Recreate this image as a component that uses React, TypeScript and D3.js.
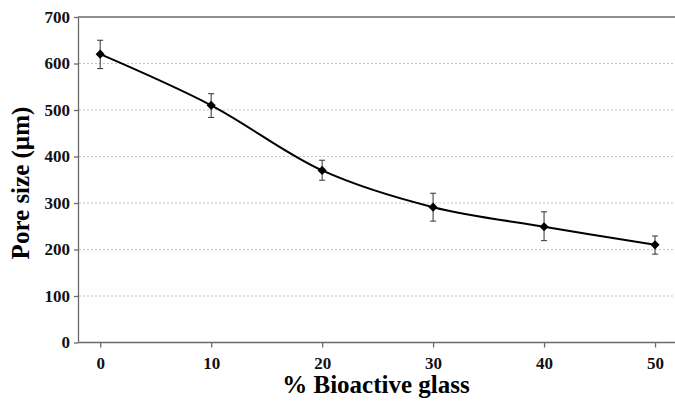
import React, { useEffect, useRef } from 'react'
import * as d3 from 'd3'

const glassPct = [0, 10, 20, 30, 40, 50]
const poreSize = [620, 510, 370, 291, 249, 210]
const errUpper = [650, 535, 392, 321, 281, 229]
const errLower = [589, 484, 349, 261, 219, 190]
const xTicks = [0, 10, 20, 30, 40, 50]
const yTicks = [0, 100, 200, 300, 400, 500, 600, 700]

const W = 675, H = 401
const FONT = 'Liberation Serif, DejaVu Serif, serif'

export default function App() {
  const ref = useRef<SVGSVGElement>(null)

  useEffect(() => {
    const svg = d3.select(ref.current)
    svg.selectAll('*').remove()
    const left = 78, top = 17, bottom = 342.5, right = 675
    const x = d3.scaleLinear().domain([-2, 51.8]).range([left, right])
    const y = d3.scaleLinear().domain([0, 700]).range([bottom, top])

    // dotted grid
    svg.append('g').selectAll('line')
      .data(yTicks.filter(v => v > 0 && v < 700))
      .enter().append('line')
      .attr('x1', left + 1).attr('x2', right)
      .attr('y1', d => y(d)).attr('y2', d => y(d))
      .attr('stroke', '#c4c4c4').attr('stroke-width', 1)
      .attr('stroke-dasharray', '2,2')

    // top border
    svg.append('line')
      .attr('x1', left).attr('x2', right).attr('y1', top).attr('y2', top)
      .attr('stroke', '#6a6a6a').attr('stroke-width', 1.3)

    const xAxis = svg.append('g')
      .attr('transform', `translate(0,${bottom})`)
      .call(d3.axisBottom(x).tickValues(xTicks).tickSize(5).tickSizeOuter(0).tickPadding(9))
    xAxis.select('.domain').attr('d', `M${left},0H${right}`)
    const yAxis = svg.append('g')
      .attr('transform', `translate(${left},0)`)
      .call(d3.axisLeft(y).tickValues(yTicks).tickSize(4).tickSizeOuter(0).tickPadding(4))
    for (const ax of [xAxis, yAxis]) {
      ax.attr('font-family', null).attr('font-size', null)
      ax.selectAll('.domain, line').attr('stroke', '#6a6a6a').attr('stroke-width', 1.3)
      ax.selectAll('text')
        .attr('fill', '#111')
        .style('font-family', FONT)
        .style('font-weight', 'bold')
        .style('font-size', '17px')
    }

    // error bars
    const eb = svg.append('g').attr('stroke', '#333').attr('stroke-width', 1)
    glassPct.forEach((g, i) => {
      const cx = x(g)
      eb.append('line').attr('x1', cx).attr('x2', cx).attr('y1', y(errUpper[i])).attr('y2', y(errLower[i]))
      eb.append('line').attr('x1', cx - 3).attr('x2', cx + 3).attr('y1', y(errUpper[i])).attr('y2', y(errUpper[i]))
      eb.append('line').attr('x1', cx - 3).attr('x2', cx + 3).attr('y1', y(errLower[i])).attr('y2', y(errLower[i]))
    })

    const line = d3.line<number>()
      .x((d, i) => x(glassPct[i]))
      .y(d => y(d))
      .curve(d3.curveCatmullRom.alpha(0.5))
    svg.append('path')
      .attr('d', line(poreSize))
      .attr('fill', 'none')
      .attr('stroke', '#000')
      .attr('stroke-width', 2)

    // diamond markers (rotated squares)
    svg.append('g').selectAll('path')
      .data(poreSize)
      .enter().append('path')
      .attr('d', d3.symbol(d3.symbolSquare, 42)())
      .attr('transform', (d, i) => `translate(${x(glassPct[i])},${y(d)}) rotate(45)`)
      .attr('fill', '#000')

    svg.append('text')
      .attr('x', 376).attr('y', 393)
      .attr('text-anchor', 'middle')
      .style('font-family', FONT).style('font-weight', 'bold').style('font-size', '25px')
      .text('% Bioactive glass')

    svg.append('text')
      .attr('transform', `translate(29,183) rotate(-90)`)
      .attr('text-anchor', 'middle')
      .style('font-family', FONT).style('font-weight', 'bold').style('font-size', '25px')
      .text('Pore size (\u00b5m)')
  }, [])

  return (
    <svg ref={ref} width={W} height={H} style={{ position: 'absolute', left: 0, top: 0, background: '#fff' }} />
  )
}
